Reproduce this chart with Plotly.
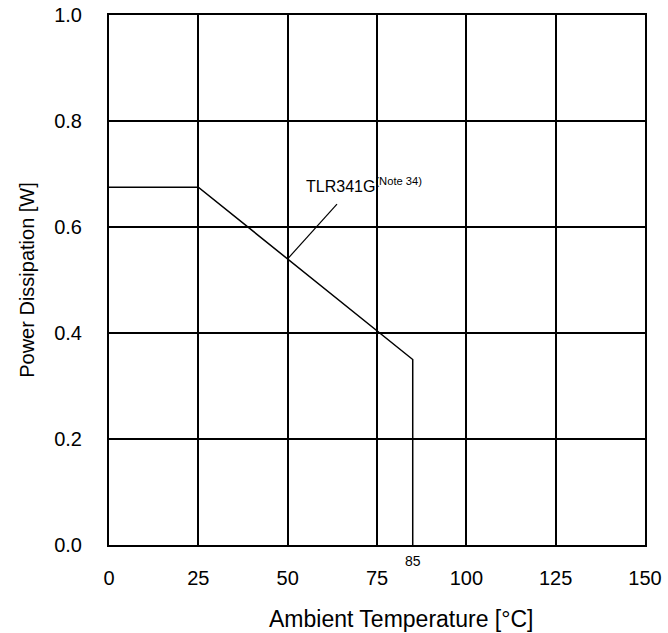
import plotly.graph_objects as go

# derating curve
temp_c = [0, 25, 85, 85]
power_w = [0.675, 0.675, 0.35, 0.0]

x_ticks = [0, 25, 50, 75, 100, 125, 150]
y_ticks = [0.0, 0.2, 0.4, 0.6, 0.8, 1.0]

FONT = "Liberation Sans, Arial, sans-serif"

fig = go.Figure()
fig.add_trace(go.Scatter(
    x=temp_c, y=power_w, mode="lines",
    line=dict(color="black", width=1.5),
    hoverinfo="skip", showlegend=False,
))

# leader line from label to curve
fig.add_shape(type="line", x0=50, y0=0.54, x1=63.8, y1=0.643,
              line=dict(color="black", width=1.2))
fig.add_annotation(x=54.6, y=0.68, xanchor="left", yanchor="middle",
                   text="TLR341G<sup>(Note 34)</sup>", showarrow=False,
                   font=dict(family=FONT, size=16, color="black"))
# extra tick label at 85
fig.add_annotation(x=85, y=0, yref="y", xanchor="center", yanchor="top",
                   yshift=-6, text="85", showarrow=False,
                   font=dict(family=FONT, size=14, color="black"))
# x title sits a bit right of centre in the original
fig.add_annotation(x=0.545, y=0, xref="paper", yref="paper",
                   xanchor="center", yanchor="middle", yshift=-74,
                   text="Ambient Temperature [°C]", showarrow=False,
                   font=dict(family=FONT, size=23, color="black"))

fig.update_xaxes(
    range=[0, 150], tickvals=x_ticks, ticks="", showgrid=True,
    gridcolor="black", gridwidth=1.5, zeroline=False, automargin=False,
    showline=True, mirror=True, linecolor="black", linewidth=2,
    ticklabelstandoff=14,
    tickfont=dict(family=FONT, size=20, color="black"),
)
fig.update_yaxes(
    range=[0, 1.0], tickvals=y_ticks, tickformat=".1f", ticks="",
    showgrid=True, gridcolor="black", gridwidth=1.5, zeroline=False,
    automargin=False,
    showline=True, mirror=True, linecolor="black", linewidth=2,
    ticklabelstandoff=21,
    tickfont=dict(family=FONT, size=20, color="black"),
    title=dict(text="Power Dissipation [W]", standoff=14,
               font=dict(family=FONT, size=20, color="black")),
)

fig.update_layout(
    width=668, height=633,
    margin=dict(l=109, r=23, t=15, b=88),
    paper_bgcolor="white", plot_bgcolor="white",
    font=dict(family=FONT, color="black"),
)

fig.write_html("out.html", config={"displayModeBar": False},
               post_script="document.body.style.margin='0px';")
